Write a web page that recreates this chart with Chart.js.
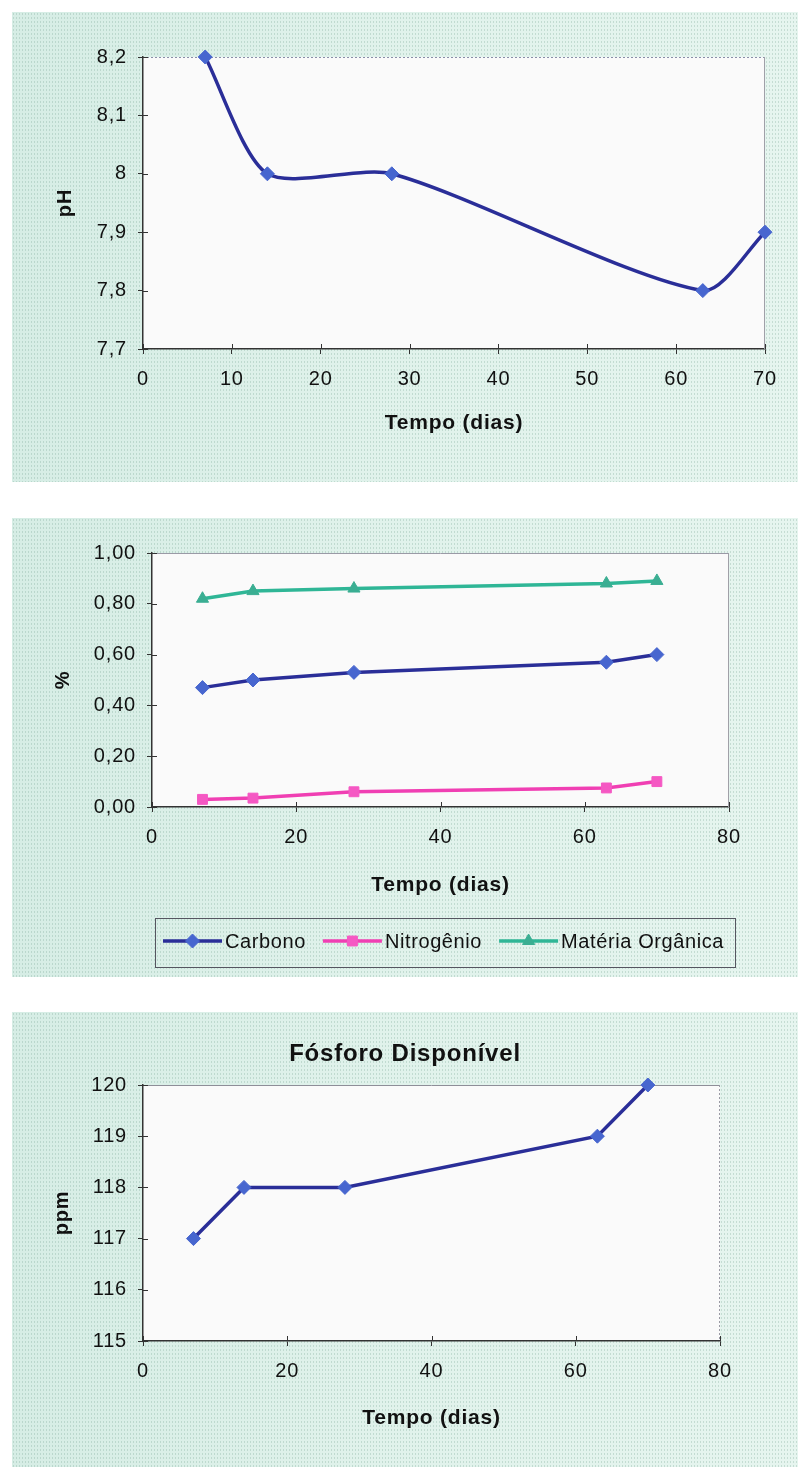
<!DOCTYPE html>
<html lang="pt-BR">
<head>
<meta charset="utf-8">
<title>pH, C, N, MO e Fósforo Disponível</title>
<script src="https://cdn.jsdelivr.net/npm/chart.js@4.4.1/dist/chart.umd.min.js"></script>
<style>
  html, body { margin: 0; padding: 0; background: #ffffff; width: 798px; height: 1467px; overflow: hidden; }
  .painel {
    position: absolute; left: 12px; width: 786px;
    background-color: #e0f1e9;
    background-image:
      radial-gradient(circle, rgba(120, 165, 148, 0.30) 0.75px, transparent 1.1px),
      linear-gradient(90deg, #d6ede5 0%, #e0f2eb 45%, #e6f5ef 100%);
    background-size: 3px 4px, 100% 100%;
  }
  .painel canvas { display: block; }
</style>
</head>
<body>
<div class="painel" style="top:12px;height:470px"><canvas id="graficoPH" width="786" height="470"></canvas></div>
<div class="painel" style="top:518px;height:459px"><canvas id="graficoCNMO" width="786" height="459"></canvas></div>
<div class="painel" style="top:1012px;height:455px"><canvas id="graficoFosforo" width="786" height="455"></canvas></div>

<script>
// ---- Dados ----
const diasPH = [7, 14, 28, 63, 70];
const valoresPH = [8.2, 8.0, 8.0, 7.8, 7.9];
const rotulosPH = ['7,7', '7,8', '7,9', '8', '8,1', '8,2'];
const rotulosTempoPH = ['0', '10', '20', '30', '40', '50', '60', '70'];

const diasAnalise = [7, 14, 28, 63, 70];
const carbono = [0.47, 0.50, 0.53, 0.57, 0.60];
const nitrogenio = [0.03, 0.035, 0.06, 0.075, 0.10];
const materiaOrganica = [0.82, 0.85, 0.86, 0.88, 0.89];
const rotulosPercentual = ['0,00', '0,20', '0,40', '0,60', '0,80', '1,00'];
const rotulosTempo = ['0', '20', '40', '60', '80'];

const diasFosforo = [7, 14, 28, 63, 70];
const fosforo = [117, 118, 118, 119, 120];
const rotulosPpm = ['115', '116', '117', '118', '119', '120'];

// ---- Estilo ----
const FONTE = '"Liberation Sans", Arial, sans-serif';
const TEXTO = '#111111';
const EIXO = '#333333';
const AZUL_LINHA = '#2a2e98', AZUL_PONTO = '#4766cf';
const ROSA_LINHA = '#f03fb3', ROSA_PONTO = '#f558c3';
const VERDE_LINHA = '#2fb696', VERDE_PONTO = '#3aae92';

function pontos(xs, ys) { return xs.map((x, i) => ({ x, y: ys[i] })); }

function serie(label, data, linha, ponto, estilo, raio, tension) {
  return {
    label, data,
    borderColor: linha, borderWidth: 3.5,
    backgroundColor: ponto,
    pointBackgroundColor: ponto, pointBorderColor: ponto, pointBorderWidth: 1,
    pointStyle: estilo, pointRadius: raio,
    tension, clip: false
  };
}

// Fundo da área de plotagem, bordas superior/direita e marcas de escala cruzadas
const moldura = {
  id: 'moldura',
  beforeUpdate(chart) { chart.ctx.letterSpacing = '0.8px'; },
  beforeDraw(chart, args, o) {
    const { ctx, chartArea: a } = chart;
    ctx.letterSpacing = '0.8px';
    ctx.save();
    ctx.fillStyle = o.fundo;
    ctx.fillRect(a.left, a.top, a.width, a.height);
    ctx.restore();
  },
  beforeDatasetsDraw(chart, args, o) {
    const { ctx, chartArea: a, scales } = chart;
    ctx.save();
    ctx.lineWidth = 1;
    ctx.strokeStyle = o.corTopo;
    ctx.setLineDash(o.tracoTopo);
    ctx.beginPath(); ctx.moveTo(a.left, a.top + 0.5); ctx.lineTo(a.right, a.top + 0.5); ctx.stroke();
    ctx.strokeStyle = o.corDireita;
    ctx.setLineDash(o.tracoDireita);
    ctx.beginPath(); ctx.moveTo(a.right - 0.5, a.top); ctx.lineTo(a.right - 0.5, a.bottom); ctx.stroke();
    ctx.setLineDash([]);
    ctx.strokeStyle = EIXO;
    scales.x.ticks.forEach(t => {
      const px = Math.round(scales.x.getPixelForValue(t.value)) + 0.5;
      ctx.beginPath(); ctx.moveTo(px, a.bottom); ctx.lineTo(px, a.bottom - 5); ctx.stroke();
    });
    scales.y.ticks.forEach(t => {
      const py = Math.round(scales.y.getPixelForValue(t.value)) + 0.5;
      ctx.beginPath(); ctx.moveTo(a.left, py); ctx.lineTo(a.left + 5, py); ctx.stroke();
    });
    ctx.restore();
  }
};

// Legenda em caixa com amostra de linha + marcador
const legendaLinhas = {
  id: 'legendaLinhas',
  afterDraw(chart, args, o) {
    const ctx = chart.ctx;
    ctx.save();
    ctx.letterSpacing = o.espacoLetras;
    ctx.strokeStyle = o.corBorda; ctx.lineWidth = 1;
    ctx.strokeRect(o.x + 0.5, o.y + 0.5, o.w, o.h);
    ctx.font = o.tamanho + 'px ' + FONTE;
    ctx.textBaseline = 'middle';
    let x = o.inicio;
    chart.data.datasets.forEach(ds => {
      ctx.strokeStyle = ds.borderColor; ctx.lineWidth = ds.borderWidth;
      ctx.beginPath(); ctx.moveTo(x, o.cy); ctx.lineTo(x + o.linha, o.cy); ctx.stroke();
      ctx.fillStyle = ds.pointBackgroundColor; ctx.strokeStyle = ds.pointBorderColor; ctx.lineWidth = 1;
      Chart.helpers.drawPoint(ctx, { pointStyle: ds.pointStyle, radius: ds.pointRadius, borderWidth: 1, rotation: 0 }, x + o.linha / 2, o.cy);
      ctx.fillStyle = TEXTO;
      ctx.fillText(ds.label, x + o.linha + o.folga, o.cy + 1);
      x += o.linha + o.folga + ctx.measureText(ds.label).width + o.espaco;
    });
    ctx.restore();
  }
};

function eixoX(c) {
  return {
    type: 'linear', position: 'bottom', min: c.min, max: c.max,
    ticks: { stepSize: c.passo, callback: (v, i) => c.rotulos[i], autoSkip: false, maxRotation: 0,
             color: TEXTO, font: { family: FONTE, size: 20 }, padding: 13 },
    grid: { drawOnChartArea: false, drawTicks: true, tickLength: 5, color: EIXO },
    border: { display: true, color: EIXO, width: 1.5 },
    title: { display: true, text: 'Tempo (dias)', color: TEXTO,
             font: { family: FONTE, size: 21, weight: 'bold' }, padding: { top: 0, bottom: c.tituloBase } },
    afterFit: s => { s.height = c.altura; }
  };
}

function eixoY(c) {
  return {
    type: 'linear', position: 'left', min: c.min, max: c.max,
    ticks: { stepSize: c.passo, callback: (v, i) => c.rotulos[i], autoSkip: false,
             color: TEXTO, font: { family: FONTE, size: 20 }, padding: 11 },
    grid: { drawOnChartArea: false, drawTicks: true, tickLength: 5, color: EIXO },
    border: { display: true, color: EIXO, width: 1.5 },
    title: { display: true, text: c.titulo, color: TEXTO,
             font: { family: FONTE, size: 20, weight: 'bold' }, padding: { top: c.tituloEsq, bottom: 0 } },
    afterFit: s => { s.width = c.largura; }
  };
}

// margem direita reservada por um eixo sem marcas, para o título ficar centrado no painel
function margemDireita(largura) {
  return {
    type: 'linear', position: 'right', display: true,
    ticks: { display: false }, grid: { display: false }, border: { display: false },
    afterFit: s => { s.width = largura; }
  };
}

// ---- pH ----
new Chart(document.getElementById('graficoPH'), {
  type: 'line',
  data: { datasets: [serie('pH', pontos(diasPH, valoresPH), AZUL_LINHA, AZUL_PONTO, 'rectRot', 7, 0.25)] },
  options: {
    responsive: false, animation: false,
    layout: { padding: { top: 45, right: 33, left: 0, bottom: 0 } },
    plugins: {
      legend: { display: false }, tooltip: { enabled: false },
      moldura: { fundo: '#fafafa', corTopo: '#8a8fa8', tracoTopo: [2, 2], corDireita: '#a0a0a8', tracoDireita: [] }
    },
    scales: {
      x: eixoX({ min: 0, max: 70, passo: 10, rotulos: rotulosTempoPH, altura: 133, tituloBase: 46 }),
      y: eixoY({ min: 7.7, max: 8.2, passo: 0.1, rotulos: rotulosPH, largura: 131, titulo: 'pH', tituloEsq: 41 })
    }
  },
  plugins: [moldura]
});

// ---- Carbono, Nitrogênio e Matéria Orgânica ----
new Chart(document.getElementById('graficoCNMO'), {
  type: 'line',
  data: {
    datasets: [
      serie('Carbono', pontos(diasAnalise, carbono), AZUL_LINHA, AZUL_PONTO, 'rectRot', 7, 0),
      serie('Nitrogênio', pontos(diasAnalise, nitrogenio), ROSA_LINHA, ROSA_PONTO, 'rect', 7, 0),
      serie('Matéria Orgânica', pontos(diasAnalise, materiaOrganica), VERDE_LINHA, VERDE_PONTO, 'triangle', 7, 0)
    ]
  },
  options: {
    responsive: false, animation: false,
    layout: { padding: { top: 35, right: 69, left: 0, bottom: 0 } },
    plugins: {
      legend: { display: false }, tooltip: { enabled: false },
      moldura: { fundo: '#fafafa', corTopo: '#9a9aa6', tracoTopo: [], corDireita: '#a0a0a8', tracoDireita: [] },
      legendaLinhas: { x: 143, y: 400, w: 580, h: 49, cy: 423, inicio: 151, linha: 59, folga: 3, espaco: 17,
                       tamanho: 20, espacoLetras: '0.6px', corBorda: '#555560' }
    },
    scales: {
      x: eixoX({ min: 0, max: 80, passo: 20, rotulos: rotulosTempo, altura: 170, tituloBase: 79 }),
      y: eixoY({ min: 0, max: 1, passo: 0.2, rotulos: rotulosPercentual, largura: 140, titulo: '%', tituloEsq: 39 })
    }
  },
  plugins: [moldura, legendaLinhas]
});

// ---- Fósforo Disponível ----
new Chart(document.getElementById('graficoFosforo'), {
  type: 'line',
  data: { datasets: [serie('Fósforo Disponível', pontos(diasFosforo, fosforo), AZUL_LINHA, AZUL_PONTO, 'rectRot', 7, 0)] },
  options: {
    responsive: false, animation: false,
    layout: { padding: { top: 0, right: 0, left: 0, bottom: 0 } },
    plugins: {
      legend: { display: false }, tooltip: { enabled: false },
      title: { display: true, text: 'Fósforo Disponível', color: TEXTO,
               font: { family: FONTE, size: 24, weight: 'bold' }, padding: { top: 27.6, bottom: 16.6 } },
      moldura: { fundo: '#fafafa', corTopo: '#8e8e98', tracoTopo: [], corDireita: '#9a9aa4', tracoDireita: [2, 2] }
    },
    scales: {
      x: eixoX({ min: 0, max: 80, passo: 20, rotulos: rotulosTempo, altura: 126, tituloBase: 36 }),
      y: eixoY({ min: 115, max: 120, passo: 1, rotulos: rotulosPpm, largura: 131, titulo: 'ppm', tituloEsq: 38 }),
      margem: margemDireita(78)
    }
  },
  plugins: [moldura]
});
</script>
</body>
</html>
